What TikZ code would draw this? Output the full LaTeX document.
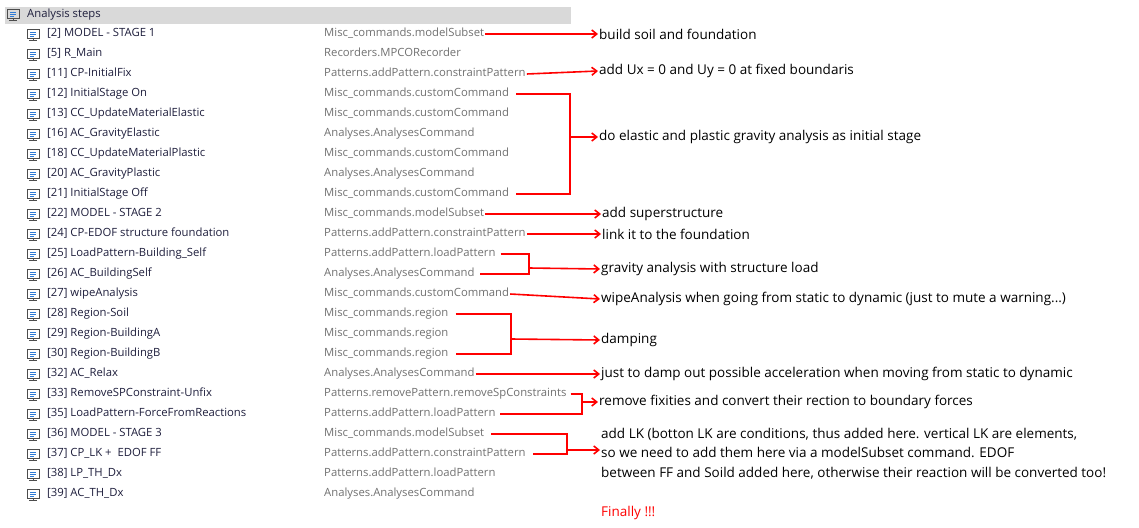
\documentclass[tikz,border=0pt]{standalone}
\usepackage{fontspec}
\setmainfont{Open Sans}
\usetikzlibrary{arrows.meta}
\definecolor{stepcol}{HTML}{1E1E3C}
\definecolor{cmdcol}{HTML}{707070}
\definecolor{iconblue}{HTML}{2E7BD6}
\tikzset{
    steplabel/.style={anchor=west, inner sep=1pt, text height=8pt, text depth=2.5pt, text=stepcol, font=\fontsize{11.3}{12}\selectfont}, % step label
    cmd/.style={anchor=west, inner sep=1pt, text height=8pt, text depth=2.5pt, text=cmdcol, font=\fontsize{11.3}{12}\selectfont}, % command label
    note/.style={anchor=west, inner sep=1pt, font=\fontsize{13.5}{19.5}\selectfont, align=left},
    arrow/.style={red, line width=1.6pt, -{Straight Barb[length=5pt,width=8pt]}},
    brace/.style={red, line width=1.6pt},
    pics/stepicon/.style={code={
        \draw[black!70, line width=0.7pt] (-6,-5) rectangle (6,4);
        \draw[iconblue, line width=0.8pt] (-3,-2) -- (3,-2) (-3,0) -- (3,0) (-3,2) -- (1,2);
        \draw[black!70, line width=0.8pt] (0,4) -- (0,6) (-4,6.5) -- (4,6.5);
    }}
}

\begin{document}
\begin{tikzpicture}[x=1pt, y=-1pt]
    \useasboundingbox (0,0) rectangle (1139,527);
    \fill[black!15] (5,7) rectangle (571,24);
    \pic at (13,14) {stepicon};
    \node[steplabel] (head) at (26,15) {Analysis steps};

    \foreach \i/\lab/\cmdtext in {
        1/{[2] MODEL - STAGE 1}/{Misc\_commands.modelSubset},
        2/{[5] R\_Main}/{Recorders.MPCORecorder},
        3/{[11] CP-InitialFix}/{Patterns.addPattern.constraintPattern},
        4/{[12] InitialStage On}/{Misc\_commands.customCommand},
        5/{[13] CC\_UpdateMaterialElastic}/{Misc\_commands.customCommand},
        6/{[16] AC\_GravityElastic}/{Analyses.AnalysesCommand},
        7/{[18] CC\_UpdateMaterialPlastic}/{Misc\_commands.customCommand},
        8/{[20] AC\_GravityPlastic}/{Analyses.AnalysesCommand},
        9/{[21] InitialStage Off}/{Misc\_commands.customCommand},
        10/{[22] MODEL - STAGE 2}/{Misc\_commands.modelSubset},
        11/{[24] CP-EDOF structure foundation}/{Patterns.addPattern.constraintPattern},
        12/{[25] LoadPattern-Building\_Self}/{Patterns.addPattern.loadPattern},
        13/{[26] AC\_BuildingSelf}/{Analyses.AnalysesCommand},
        14/{[27] wipeAnalysis}/{Misc\_commands.customCommand},
        15/{[28] Region-Soil}/{Misc\_commands.region},
        16/{[29] Region-BuildingA}/{Misc\_commands.region},
        17/{[30] Region-BuildingB}/{Misc\_commands.region},
        18/{[32] AC\_Relax}/{Analyses.AnalysesCommand},
        19/{[33] RemoveSPConstraint-Unfix}/{Patterns.removePattern.removeSpConstraints},
        20/{[35] LoadPattern-ForceFromReactions}/{Patterns.addPattern.loadPattern},
        21/{[36] MODEL - STAGE 3}/{Misc\_commands.modelSubset},
        22/{[37] CP\_LK +\ \ EDOF FF}/{Patterns.addPattern.constraintPattern},
        23/{[38] LP\_TH\_Dx}/{Patterns.addPattern.loadPattern},
        24/{[39] AC\_TH\_Dx}/{Analyses.AnalysesCommand}
    } {
        \pic at (33,14+20*\i) {stepicon};
        \node[steplabel] (s\i) at (46,14+20*\i) {\lab};
        \node[cmd] (c\i) at (323,14+20*\i) {\cmdtext};
    }

    % notes
    \node[note] (n1) at (598,34) {build soil and foundation};
    \node[note] (n2) at (598,71) {add Ux = 0 and Uy = 0 at fixed boundaris};
    \node[note] (n3) at (598,137) {do elastic and plastic gravity analysis as initial stage};
    \node[note] (n4) at (601,214) {add superstructure};
    \node[note] (n5) at (601,234) {link it to the foundation};
    \node[note] (n6) at (600,269) {gravity analysis with structure load};
    \node[note] (n7) at (600,299) {wipeAnalysis when going from static to dynamic (just to mute a warning...)};
    \node[note] (n8) at (600,340) {damping};
    \node[note] (n9) at (600,374) {just to damp out possible acceleration when moving from static to dynamic};
    \node[note] (n10) at (598,402) {remove fixities and convert their rection to boundary forces};
    \node[note, anchor=north west] (n11) at (600,427) {add LK (botton LK are conditions, thus added here. vertical LK are elements,\\so we need to add them here via a modelSubset command. EDOF\\between FF and Soild added here, otherwise their reaction will be converted too!};
    \node[note, text=red] (fin) at (600,513) {Finally !!!};

    % single arrows
    \draw[arrow] (c1.east) -- (n1.west);
    \draw[arrow] (c3.east) -- (n2.west);
    \draw[arrow] (c10.east) -- (n4.west);
    \draw[arrow] (c11.east) -- (n5.west);
    \draw[arrow] (c14.east) -- (n7.west);
    \draw[arrow] (c18.east) -- (n9.west);

    % brackets
    \coordinate (b3) at (570,137);
    \coordinate (b6) at (529,268);
    \coordinate (b8) at (511,339);
    \coordinate (b10) at (582,402);
    \coordinate (b11) at (567,450);
    \draw[brace] ([xshift=6pt]c4.east) -| (b3) |- ([xshift=6pt]c9.east);
    \draw[brace] ([xshift=4pt]c12.east) -| (b6) |- ([xshift=4pt]c13.east);
    \draw[brace] ([xshift=6pt]c15.east) -| (b8) |- ([xshift=6pt]c17.east);
    \draw[brace] ([xshift=3pt]c19.east) -| (b10) |- ([xshift=3pt]c20.east);
    \draw[brace] ([xshift=6pt]c21.east) -| (b11) |- ([xshift=6pt]c22.east);
    \draw[arrow] (b3) -- (n3.west);
    \draw[arrow] (b6) -- (n6.west);
    \draw[arrow] (b8) -- (n8.west);
    \draw[arrow] (b10) -- (n10.west);
    \draw[arrow] (b11) -- (b11 -| n11.west);
\end{tikzpicture}
\end{document}
